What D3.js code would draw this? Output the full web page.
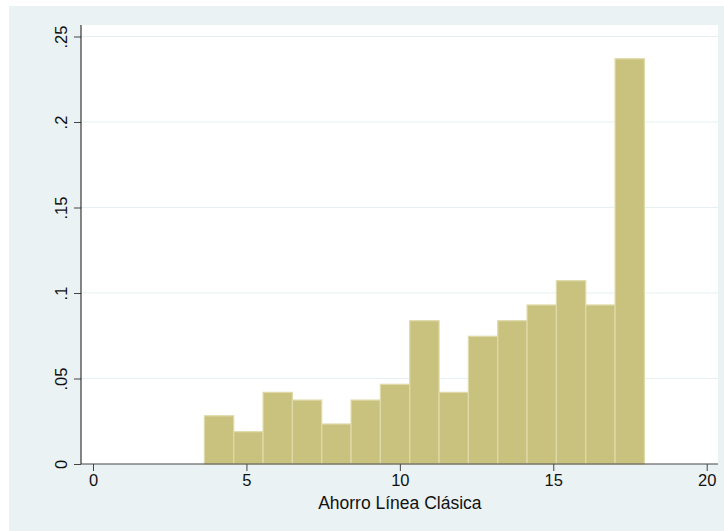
<!DOCTYPE html>
<html>
<head>
<meta charset="utf-8">
<script src="https://cdn.jsdelivr.net/npm/d3@7"></script>
<style>
  html, body { margin: 0; padding: 0; background: #ffffff; }
  svg { display: block; font-family: "Liberation Sans", Arial, sans-serif; }
</style>
</head>
<body>
<svg id="chart" width="724" height="531"></svg>
<script>
// Histogram bins of "Ahorro Línea Clásica" (15 equal-width bins)
const binStart = 3.63;
const binEnd = 17.97;
const densities = [0.0282, 0.0189, 0.0419, 0.0374, 0.0234, 0.0374, 0.0466, 0.0838,
                   0.0419, 0.0747, 0.0838, 0.0930, 0.1072, 0.0930, 0.2370];
const xTicks = [0, 5, 10, 15, 20];
const yTicks = [0, 0.05, 0.1, 0.15, 0.2, 0.25];
const yTickLabels = ["0", ".05", ".1", ".15", ".2", ".25"];
const xTitle = "Ahorro Línea Clásica";

const svg = d3.select("#chart");

// outer graph region
svg.append("rect")
  .attr("x", 9).attr("y", 6).attr("width", 724 - 9).attr("height", 531 - 6)
  .attr("fill", "#eaf2f3");

// plot region
const plot = { left: 81, right: 718, top: 25, bottom: 464 };
svg.append("rect")
  .attr("x", plot.left).attr("y", plot.top)
  .attr("width", plot.right - plot.left).attr("height", plot.bottom - plot.top)
  .attr("fill", "#ffffff");

const x = d3.scaleLinear().domain([0, 20]).range([93, 706.7]);
const y = d3.scaleLinear().domain([0, 0.25]).range([464, 36.5]);

// horizontal grid lines
svg.append("g")
  .selectAll("line")
  .data(yTicks.filter(d => d > 0))
  .join("line")
  .attr("x1", plot.left).attr("x2", plot.right)
  .attr("y1", d => y(d)).attr("y2", d => y(d))
  .attr("stroke", "#e6eff1").attr("stroke-width", 1.2);

// bars
const n = densities.length;
const w = (binEnd - binStart) / n;
const bins = densities.map((d, i) => ({ x0: binStart + i * w, x1: binStart + (i + 1) * w, d }));
svg.append("g")
  .selectAll("rect")
  .data(bins)
  .join("rect")
  .attr("x", b => x(b.x0))
  .attr("width", b => x(b.x1) - x(b.x0))
  .attr("y", b => y(b.d))
  .attr("height", b => y(0) - y(b.d))
  .attr("fill", "#c9c27f")
  .attr("stroke", "#dfdaaa")
  .attr("stroke-width", 1.2);

// x axis
const xAxis = d3.axisBottom(x).tickValues(xTicks).tickSize(7).tickPadding(3)
  .tickFormat(d3.format("d"));
const gx = svg.append("g").attr("transform", `translate(0,${plot.bottom})`).call(xAxis);
gx.select(".domain").remove();
gx.append("line")
  .attr("x1", plot.left).attr("x2", plot.right)
  .attr("stroke", "#444");
gx.selectAll(".tick line").attr("stroke", "#444");
gx.selectAll(".tick text")
  .attr("fill", "#111").attr("font-size", 16.5)
  .attr("font-family", "Liberation Sans, Arial, sans-serif");

// y axis
const yAxis = d3.axisLeft(y).tickValues(yTicks).tickSize(7)
  .tickFormat((d, i) => yTickLabels[i]);
const gy = svg.append("g").attr("transform", `translate(${plot.left},0)`).call(yAxis);
gy.select(".domain").remove();
gy.append("line")
  .attr("y1", plot.top).attr("y2", plot.bottom)
  .attr("stroke", "#111");
gy.selectAll(".tick line").attr("stroke", "#444");
gy.selectAll(".tick text")
  .attr("x", null).attr("dy", null)
  .attr("text-anchor", "middle")
  .attr("transform", "translate(-14,0) rotate(-90)")
  .attr("fill", "#111").attr("font-size", 16.5)
  .attr("font-family", "Liberation Sans, Arial, sans-serif");

// x axis title
svg.append("text")
  .attr("x", (x(0) + x(20)) / 2)
  .attr("y", 509)
  .attr("text-anchor", "middle")
  .attr("font-size", 17.5)
  .attr("fill", "#111")
  .text(xTitle);
</script>
</body>
</html>
